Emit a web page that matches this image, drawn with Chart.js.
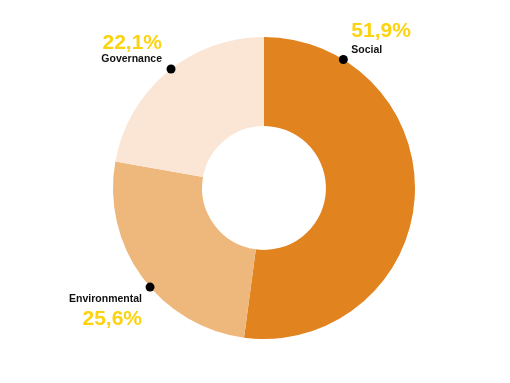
<!DOCTYPE html>
<html>
<head>
<meta charset="utf-8">
<script src="https://cdn.jsdelivr.net/npm/chart.js@4/dist/chart.umd.min.js"></script>
<style>
html,body{margin:0;padding:0;background:#fff;}
#wrap{width:510px;height:383px;position:relative;}
</style>
</head>
<body>
<div id="wrap"><canvas id="c" width="510" height="383"></canvas></div>
<script>
const categories = ["Social", "Environmental", "Governance"];
const values = [51.9, 25.6, 22.1];
const valueLabels = ["51,9%", "25,6%", "22,1%"];
const colors = ["#E1831F", "#EEB77B", "#FBE6D6"];

const labelPlugin = {
  id: 'calloutLabels',
  afterDatasetsDraw(chart, args, opts) {
    const ctx = chart.ctx;
    const arc = chart.getDatasetMeta(0).data[0];
    const cx = arc.x, cy = arc.y, r = arc.outerRadius;
    opts.items.forEach((it, i) => {
      const a = (it.angle - 90) * Math.PI / 180;
      const dx = cx + r * Math.cos(a), dy = cy + r * Math.sin(a);
      ctx.save();
      ctx.fillStyle = '#000';
      ctx.beginPath();
      ctx.arc(dx, dy, 4.5, 0, Math.PI * 2);
      ctx.fill();
      ctx.textAlign = it.align;
      ctx.textBaseline = 'alphabetic';
      ctx.font = 'bold 10.5px "Liberation Sans", Arial, sans-serif';
      ctx.fillStyle = '#111';
      ctx.fillText(categories[i], dx + it.tx, dy + it.ly);
      ctx.font = 'bold 21px "Liberation Sans", Arial, sans-serif';
      ctx.fillStyle = '#FDD20F';
      ctx.fillText(valueLabels[i], dx + it.tx + (it.px || 0), dy + it.py);
      ctx.restore();
    });
  }
};

new Chart(document.getElementById('c'), {
  type: 'doughnut',
  data: {
    labels: categories,
    datasets: [{
      data: values,
      backgroundColor: colors,
      borderWidth: 0,
      hoverOffset: 0
    }]
  },
  options: {
    responsive: false,
    animation: false,
    cutout: '41%',
    layout: { padding: { top: 37, bottom: 44, left: 18, right: 0 } },
    plugins: {
      legend: { display: false },
      tooltip: { enabled: false },
      calloutLabels: {
        items: [
          { angle: 31.7, align: 'left', tx: 8, ly: -7, py: -23 },
          { angle: 229, align: 'right', tx: -8, ly: 15, py: 38 },
          { angle: 322, align: 'right', tx: -9, ly: -7, py: -20 }
        ]
      }
    }
  },
  plugins: [labelPlugin]
});
</script>
</body>
</html>
